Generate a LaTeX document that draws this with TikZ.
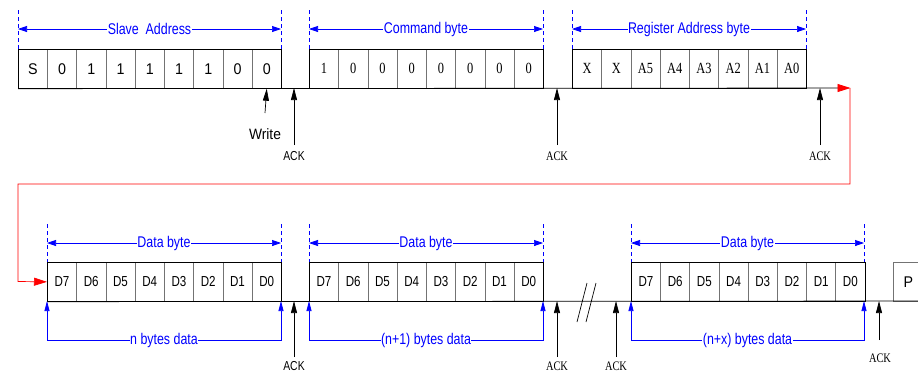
\documentclass[tikz,border=0pt]{standalone}
\usepackage{fontspec}
\setmainfont[FakeStretch=0.8]{Liberation Serif}
\newfontfamily\sansf[FakeStretch=0.8]{Liberation Sans}
\newfontfamily\sansw[FakeStretch=0.92]{Liberation Sans}
\usetikzlibrary{arrows.meta}
\tikzset{
  cell/.style={draw=black!55, minimum width=29.25pt, minimum height=39pt, inner sep=0pt, anchor=north west},
  sbit/.style={font=\sansw\fontsize{15.5}{15.5}\selectfont},
  rbit/.style={font=\fontsize{15.5}{15.5}\selectfont},
  dbit/.style={font=\sansf\fontsize{14.5}{14.5}\selectfont},
  ackarrow/.style={draw=black, -{Triangle[length=12pt,width=6pt]}},
  acklabr/.style={font=\fontsize{13}{13}\selectfont, inner sep=0pt},
  acklabs/.style={font=\sansf\fontsize{13}{13}\selectfont, inner sep=0pt},
  bluedash/.style={draw=blue, dashed, dash pattern=on 4pt off 3pt},
  bluedim/.style={draw=blue, {Triangle[length=9pt,width=6pt]}-{Triangle[length=9pt,width=6pt]}},
  bluebr/.style={draw=blue, {Triangle[length=10pt,width=5pt]}-{Triangle[length=10pt,width=5pt]}},
  bluelab/.style={text=blue, fill=white, inner sep=0.5pt, font=\sansf\fontsize{15.5}{15.5}\selectfont},
  redline/.style={draw=red},
}
\begin{document}
\begin{tikzpicture}[x=1pt,y=-1pt,line width=0.7pt]
\useasboundingbox[fill=white] (0,0) rectangle (918,373);

% ---------- top row cells ----------
\foreach \t [count=\i from 0] in {S,0,1,1,1,1,1,0,0}
  \node[cell,sbit] (sa\i) at ({18+\i*29.22},49) {\t};
\foreach \t [count=\i from 0] in {1,0,0,0,0,0,0,0}
  \node[cell,rbit] (cb\i) at ({309+\i*29.25},49) {\t};
\foreach \t [count=\i from 0] in {X,X,A5,A4,A3,A2,A1,A0}
  \node[cell,rbit] (ra\i) at ({572+\i*29.25},49) {\t};
\draw (sa0.south west) rectangle (sa8.north east);
\draw (cb0.south west) rectangle (cb7.north east);
\draw (ra0.south west) rectangle (ra7.north east);

% ---------- bottom row cells ----------
\foreach \t [count=\i from 0] in {D7,D6,D5,D4,D3,D2,D1,D0} {
  \node[cell,dbit] (da\i) at ({47+\i*29.25},262) {\t};
  \node[cell,dbit] (db\i) at ({309+\i*29.25},262) {\t};
  \node[cell,dbit] (dc\i) at ({631+\i*29.2},262) {\t};
}
\node[cell,sbit,minimum width=40pt] (pp) at (893,262) {\hspace*{-10pt}P};
\draw (da0.south west) rectangle (da7.north east);
\draw (db0.south west) rectangle (db7.north east);
\draw (dc0.south west) rectangle (dc7.north east);

% ---------- base lines ----------
\coordinate (tr) at (838,88);
\coordinate (br) at (918,301);
\draw (sa0.south west) -- (tr);
\draw (da0.south west) -- (br);

% ---------- red continuation ----------
\coordinate (rA) at (850.5,88);
\coordinate (rB) at (850,184);
\coordinate (rC) at (18,184);
\coordinate (rD) at (18,281.5);
\draw[redline, -{Triangle[length=13pt,width=8pt]}] (tr) -- (rA);
\draw[redline, -{Triangle[length=13pt,width=8pt]}] (850,88) -- (rB) -- (rC) -- (rD) -- (da0.west);

% ---------- Write and ACK arrows, top ----------
\coordinate (w0) at (265,113);
\draw[ackarrow] (w0) -- (sa8.south);
\node[font=\sansw\fontsize{15}{15}\selectfont] (wr) at (265,134) {Write};

\coordinate (k1s) at (294,145); \coordinate (k1e) at (294,88);
\draw[ackarrow] (k1s) -- (k1e);
\node[acklabs] (k1) at (294,156) {ACK};
\coordinate (k2s) at (557,145); \coordinate (k2e) at (557,88);
\draw[ackarrow] (k2s) -- (k2e);
\node[acklabr] (k2) at (557,156) {ACK};
\coordinate (k3s) at (820,145); \coordinate (k3e) at (820,88);
\draw[ackarrow] (k3s) -- (k3e);
\node[acklabr] (k3) at (820,156) {ACK};

% ---------- ACK arrows, bottom ----------
\coordinate (k4s) at (294,357); \coordinate (k4e) at (294,301);
\draw[ackarrow] (k4s) -- (k4e);
\node[acklabs] (k4) at (294,366) {ACK};
\coordinate (k5s) at (557,357); \coordinate (k5e) at (557,301);
\draw[ackarrow] (k5s) -- (k5e);
\node[acklabr] (k5) at (557,366) {ACK};
\coordinate (k6s) at (616,357); \coordinate (k6e) at (616,301);
\draw[ackarrow] (k6s) -- (k6e);
\node[acklabr] (k6) at (616,366) {ACK};
\coordinate (k7s) at (879,340); \coordinate (k7e) at (879,301);
\draw[ackarrow] (k7s) -- (k7e);
\node[acklabr] (k7) at (880,358) {ACK};

% ---------- break mark ----------
\coordinate (b1a) at (577,322); \coordinate (b1b) at (587,283);
\coordinate (b2a) at (586,322); \coordinate (b2b) at (596,283);
\draw (b1a) -- (b1b);
\draw (b2a) -- (b2b);

% ---------- blue dimensions, top ----------
\foreach \xa/\xb/\lab in {18/281/{Slave~~Address}, 309/543/{Command byte}, 572/806/{Register Address byte}} {
  \draw[bluedash] (\xa,10) -- (\xa,49);
  \draw[bluedash] (\xb,10) -- (\xb,49);
  \draw[bluedim] (\xa,29) -- (\xb,29) node[midway,bluelab] {\lab};
}
% ---------- blue dimensions, bottom ----------
\foreach \xa/\xb/\lab in {47/281/{n bytes data}, 309/543/{(n+1) bytes data}, 631/864/{(n+x) bytes data}} {
  \draw[bluedash] (\xa,224) -- (\xa,262);
  \draw[bluedash] (\xb,224) -- (\xb,262);
  \draw[bluedim] (\xa,243) -- (\xb,243) node[midway,bluelab] {Data byte};
  \draw[bluebr] (\xa,301) -- (\xa,340) -- (\xb,340) -- (\xb,301);
  \node[bluelab] at ({(\xa+\xb)/2},340) {\lab};
}
\end{tikzpicture}
\end{document}
